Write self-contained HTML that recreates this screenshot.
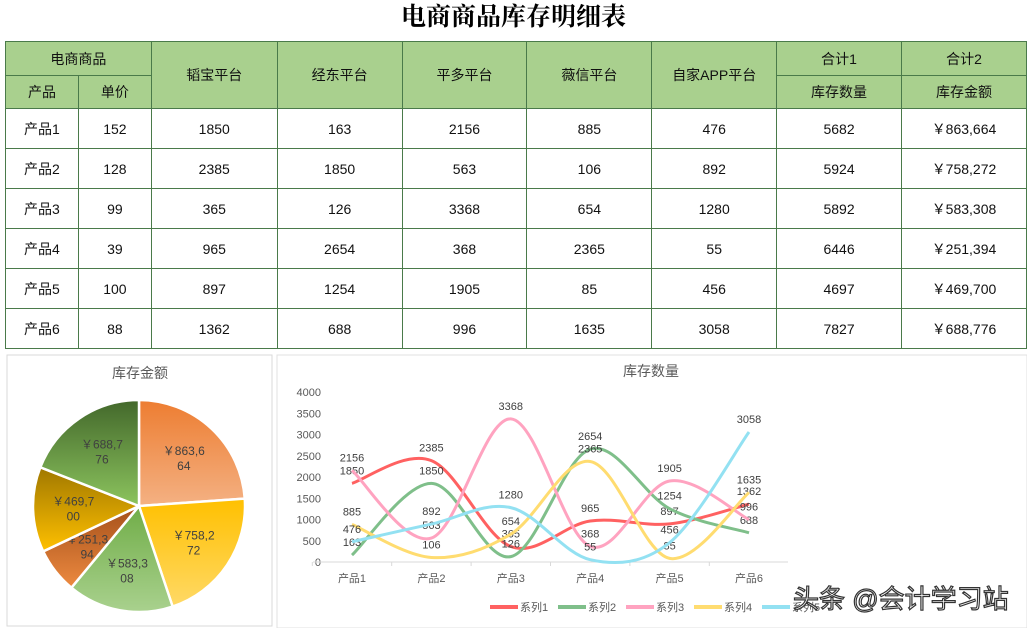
<!DOCTYPE html>
<html><head><meta charset="utf-8"><style>
body{margin:0;width:1027px;height:628px;overflow:hidden;background:#fff;font-family:"Liberation Sans","Noto Sans CJK SC",sans-serif;position:relative}
table{position:absolute;left:5px;top:41px;border-collapse:collapse;table-layout:fixed}
td{border:1px solid #4a7a4a;text-align:center;font-size:14px;color:#111;padding:0}
.h td{background:#a9d08e}
#title{position:absolute;left:0;top:0;width:1027px;height:41px;text-align:center;font-size:25px;font-weight:bold;line-height:36px;font-family:"Liberation Serif","Noto Serif CJK SC",serif}
</style></head><body>
<div id="title">电商商品库存明细表</div>
<table>
<colgroup><col style="width:73px"><col style="width:73px"><col style="width:126px"><col style="width:125px"><col style="width:125px"><col style="width:125px"><col style="width:125px"><col style="width:125px"><col style="width:125px"></colgroup>
<tr class="h" style="height:34px"><td colspan="2">电商商品</td><td rowspan="2">韬宝平台</td><td rowspan="2">经东平台</td><td rowspan="2">平多平台</td><td rowspan="2">薇信平台</td><td rowspan="2">自家APP平台</td><td>合计1</td><td>合计2</td></tr>
<tr class="h" style="height:33px"><td>产品</td><td>单价</td><td>库存数量</td><td>库存金额</td></tr>
<tr style="height:40px"><td>产品1</td><td>152</td><td>1850</td><td>163</td><td>2156</td><td>885</td><td>476</td><td>5682</td><td>￥863,664</td></tr>
<tr style="height:40px"><td>产品2</td><td>128</td><td>2385</td><td>1850</td><td>563</td><td>106</td><td>892</td><td>5924</td><td>￥758,272</td></tr>
<tr style="height:40px"><td>产品3</td><td>99</td><td>365</td><td>126</td><td>3368</td><td>654</td><td>1280</td><td>5892</td><td>￥583,308</td></tr>
<tr style="height:40px"><td>产品4</td><td>39</td><td>965</td><td>2654</td><td>368</td><td>2365</td><td>55</td><td>6446</td><td>￥251,394</td></tr>
<tr style="height:40px"><td>产品5</td><td>100</td><td>897</td><td>1254</td><td>1905</td><td>85</td><td>456</td><td>4697</td><td>￥469,700</td></tr>
<tr style="height:40px"><td>产品6</td><td>88</td><td>1362</td><td>688</td><td>996</td><td>1635</td><td>3058</td><td>7827</td><td>￥688,776</td></tr>
</table>
<svg id="svg" width="1027" height="628" style="position:absolute;left:0;top:0" font-family="Liberation Sans, Noto Sans CJK SC, sans-serif">
<defs>
<linearGradient id="g0" x1="0" y1="0" x2="0" y2="1"><stop offset="0" stop-color="#ed7d31"/><stop offset="1" stop-color="#f4b183"/></linearGradient>
<linearGradient id="g1" x1="0" y1="0" x2="0" y2="1"><stop offset="0" stop-color="#ffc000"/><stop offset="1" stop-color="#ffd966"/></linearGradient>
<linearGradient id="g2" x1="0" y1="0" x2="0" y2="1"><stop offset="0" stop-color="#70ad47"/><stop offset="1" stop-color="#a9d18e"/></linearGradient>
<linearGradient id="g3" x1="0" y1="0" x2="0" y2="1"><stop offset="0" stop-color="#a5501a"/><stop offset="1" stop-color="#ed8a40"/></linearGradient>
<linearGradient id="g4" x1="0" y1="0" x2="0" y2="1"><stop offset="0" stop-color="#a07800"/><stop offset="1" stop-color="#ffc000"/></linearGradient>
<linearGradient id="g5" x1="0" y1="0" x2="0" y2="1"><stop offset="0" stop-color="#43682b"/><stop offset="1" stop-color="#8cc45e"/></linearGradient>
</defs>
<rect x="7" y="355" width="265" height="271" fill="#fff" stroke="#d9d9d9"/>
<text x="140" y="378" text-anchor="middle" font-size="14" fill="#595959">库存金额</text>
<rect x="277" y="355" width="750" height="273" fill="none" stroke="#e0e0e0"/>
<text x="651" y="376" text-anchor="middle" font-size="14" fill="#595959">库存数量</text>
<g id="pie"></g><g id="line"></g>
<text x="793" y="608" font-size="26" fill="#fff" stroke="#333" stroke-width="1.2">头条 @会计学习站</text>
</svg>
<script>
const pieLabels=["￥863,6|64","￥758,2|72","￥583,3|08","￥251,3|94","￥469,7|00","￥688,7|76"];
const pieValues=[863664,758272,583308,251394,469700,688776];
const categories=["产品1","产品2","产品3","产品4","产品5","产品6"];
const s1=[1850,2385,365,965,897,1362];
const s2=[163,1850,126,2654,1254,688];
const s3=[2156,563,3368,368,1905,996];
const s4=[885,106,654,2365,85,1635];
const s5=[476,892,1280,55,456,3058];
const yTicks=[0,500,1000,1500,2000,2500,3000,3500,4000];
const seriesNames=["系列1","系列2","系列3","系列4","系列5"];
const NS="http://www.w3.org/2000/svg";
function mk(t,a,p){const e=document.createElementNS(NS,t);for(const k in a)e.setAttribute(k,a[k]);p.appendChild(e);return e;}
const pg=document.getElementById('pie');const cx=139,cy=506,r=106;
const tot=pieValues.reduce((a,b)=>a+b,0);let ang=-Math.PI/2;
pieValues.forEach((v,i)=>{const a2=ang+v/tot*2*Math.PI;
const p=mk('path',{d:`M${cx},${cy}L${cx+r*Math.cos(ang)},${cy+r*Math.sin(ang)}A${r},${r} 0 ${a2-ang>Math.PI?1:0} 1 ${cx+r*Math.cos(a2)},${cy+r*Math.sin(a2)}Z`,fill:`url(#g${i})`,stroke:'#fff','stroke-width':2.5},pg);


const m=(ang+a2)/2,lx=cx+r*0.62*Math.cos(m),ly=cy+r*0.62*Math.sin(m);
const parts=pieLabels[i].split('|');
parts.forEach((s,j)=>{const t=mk('text',{x:lx,y:ly-3+j*15,'text-anchor':'middle','font-size':12,fill:'#404040'},pg);t.textContent=s;

});
ang=a2;});
const lg=document.getElementById('line');
const X=i=>352+i*79.4, Y=v=>562-v/4000*170;
yTicks.forEach(v=>{const t=mk('text',{x:321,y:Y(v)+4,'text-anchor':'end','font-size':11,fill:'#595959'},lg);t.textContent=v;

});
const ax=mk('line',{x1:313,x2:788,y1:562,y2:562,stroke:'#d9d9d9'},lg);


categories.forEach((c,i)=>{const t=mk('text',{x:X(i),y:582,'text-anchor':'middle','font-size':11,fill:'#595959'},lg);t.textContent=c;


const tk=mk('line',{x1:X(i)-39.7,x2:X(i)-39.7,y1:562,y2:566,stroke:'#d9d9d9'},lg);

});
const cols=["#ff6161","#7fbf8a","#ffa3c0","#ffdc70","#93e1f2"];
[s1,s2,s3,s4,s5].forEach((s,k)=>{const P=s.map((v,i)=>[X(i),Y(v)]);let d=`M${P[0][0]},${P[0][1]}`;
for(let i=0;i<P.length-1;i++){const p0=P[i-1]||P[i],p1=P[i],p2=P[i+1],p3=P[i+2]||P[i+1];
d+=`C${p1[0]+(p2[0]-p0[0])/6},${p1[1]+(p2[1]-p0[1])/6} ${p2[0]-(p3[0]-p1[0])/6},${p2[1]-(p3[1]-p1[1])/6} ${p2[0]},${p2[1]}`;}
const pa=mk('path',{d:d,fill:'none',stroke:cols[k],'stroke-width':3},lg);


s.forEach((v,i)=>{const t=mk('text',{x:X(i),y:Y(v)-9,'text-anchor':'middle','font-size':11,fill:'#404040'},lg);t.textContent=v;

});
const lx=490+k*68;const ll=mk('line',{x1:lx,x2:lx+28,y1:607,y2:607,stroke:cols[k],'stroke-width':4},lg);


const lt=mk('text',{x:lx+30,y:611,'font-size':11,fill:'#595959'},lg);lt.textContent=seriesNames[k];

});
</script>
</body></html>
